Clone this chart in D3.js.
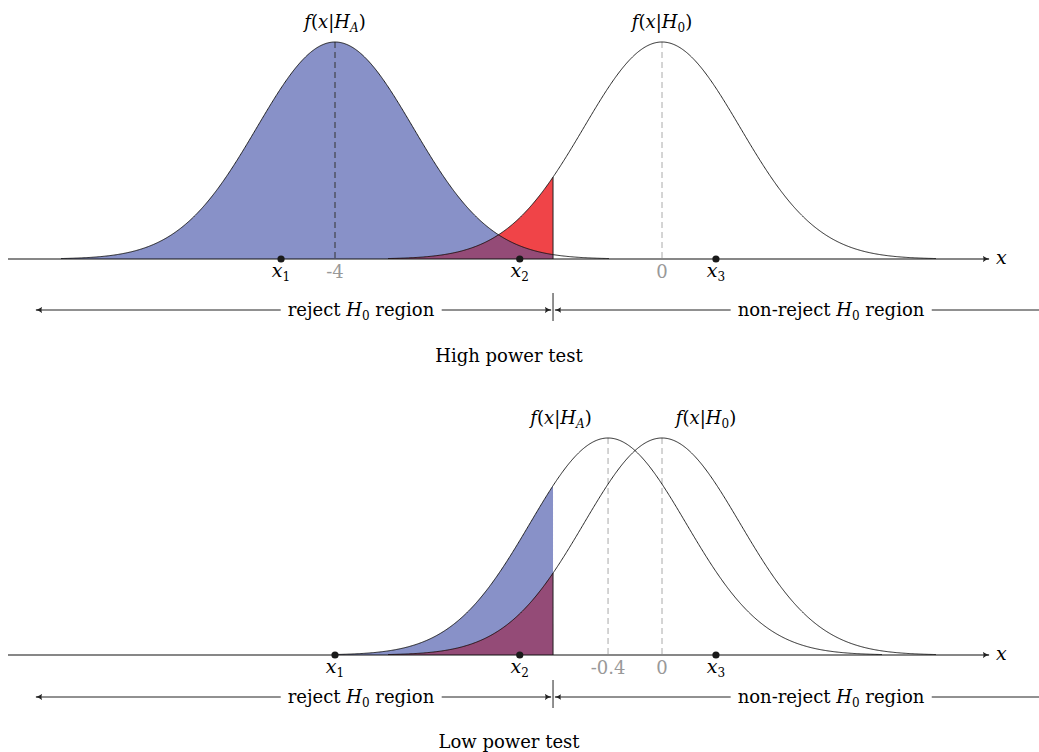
<!DOCTYPE html>
<html>
<head>
<meta charset="utf-8">
<script src="https://cdn.jsdelivr.net/npm/d3@7"></script>
<style>
  body { margin: 0; background: #fff; }
</style>
</head>
<body>
<svg id="chart"></svg>
<script>
const width = 1039;
const height = 752;

// two panels: high power (top) and low power (bottom)
const panelTitles = ["High power test", "Low power test"];
const meanA = [-4, -0.66];          // centre of f(x|H_A)
const meanALabels = ["-4", "-0.4"]; // label printed under it
const mean0 = [0, 0];               // centre of f(x|H_0)
const mean0Labels = ["0", "0"];
const sigma = 0.955;
const halfSpan = 3.35;              // how far each curve is drawn from its mean
const critical = -1.333;            // reject / non-reject boundary
const pointNames = ["1", "2", "3"];
const pointValues = [[-4.66, -1.74, 0.66], [-4.0, -1.74, 0.66]];

// layout per panel
const baseY = [259, 655];
const peakY = [42, 438];
const rowY = [310, 697];
const titleY = [362, 748];
const labelShift = [[0, 0], [-47, 44]];   // curve label offsets (H_A, H_0)

const serif = "'DejaVu Serif', serif";
const fs = 18, fsSub = 12;

const svg = d3.select("#chart")
  .attr("width", width)
  .attr("height", height)
  .attr("viewBox", [0, 0, width, height])
  .attr("font-family", serif);

const x = d3.scaleLinear().domain([-8, 4]).range([8, 989]);

const defs = svg.append("defs");
defs.append("marker")
  .attr("id", "arr")
  .attr("viewBox", "0 -5 10 10")
  .attr("refX", 9).attr("refY", 0)
  .attr("markerWidth", 7).attr("markerHeight", 7)
  .attr("markerUnits", "userSpaceOnUse")
  .attr("orient", "auto-start-reverse")
  .append("path")
  .attr("d", "M0,-4.5 Q4,-1 10,0 Q4,1 0,4.5 Q2.5,0 0,-4.5Z")
  .attr("fill", "#222");

const pdf = (v, m) => Math.exp(-0.5 * ((v - m) / sigma) ** 2) / (sigma * Math.sqrt(2 * Math.PI));
const blue = "#8891c8", red = "#f04448", purple = "#944b77";

panelTitles.forEach((title, p) => {
  const g = svg.append("g");
  const y = d3.scaleLinear().domain([0, pdf(0, 0)]).range([baseY[p], peakY[p]]);
  const mA = meanA[p], m0 = mean0[p];
  const fA = v => pdf(v, mA), f0 = v => pdf(v, m0);

  const samples = (a, b) => { const s = d3.range(a, b, 0.01); s.push(b); return s; };
  const area = f => d3.area().x(d => x(d)).y0(y(0)).y1(d => y(f(d)));
  const line = f => d3.line().x(d => x(d)).y(d => y(f(d)));

  // fills
  g.append("path").datum(samples(mA - halfSpan, critical))
    .attr("d", area(fA)).attr("fill", blue);
  g.append("path").datum(samples(m0 - halfSpan, critical))
    .attr("d", area(f0)).attr("fill", red);
  const ovStart = Math.max(mA - halfSpan, m0 - halfSpan);
  g.append("path").datum(samples(ovStart, critical))
    .attr("d", area(v => Math.min(fA(v), f0(v)))).attr("fill", purple);

  // critical edge
  g.append("line")
    .attr("x1", x(critical)).attr("x2", x(critical))
    .attr("y1", y(0)).attr("y2", y(f0(critical)))
    .attr("stroke", "#222").attr("stroke-width", 1);

  // dashed centre lines
  g.append("line")
    .attr("x1", x(mA)).attr("x2", x(mA))
    .attr("y1", y(pdf(0, 0))).attr("y2", y(0))
    .attr("stroke", p === 0 ? "#333" : "#aaa")
    .attr("stroke-dasharray", "6,4").attr("stroke-width", 1);
  g.append("line")
    .attr("x1", x(m0)).attr("x2", x(m0))
    .attr("y1", y(pdf(0, 0))).attr("y2", y(0))
    .attr("stroke", "#aaa")
    .attr("stroke-dasharray", "6,4").attr("stroke-width", 1);

  // curves
  [[mA, fA], [m0, f0]].forEach(([m, f]) => {
    g.append("path").datum(samples(m - halfSpan, m + halfSpan))
      .attr("d", line(f)).attr("fill", "none")
      .attr("stroke", "#111").attr("stroke-width", 0.9);
  });

  // axis
  g.append("line")
    .attr("x1", x(-8)).attr("x2", x(4))
    .attr("y1", y(0)).attr("y2", y(0))
    .attr("stroke", "#111").attr("stroke-width", 1.2)
    .attr("marker-end", "url(#arr)");
  g.append("text")
    .attr("x", x(4) + 7).attr("y", y(0) + 5)
    .attr("font-size", fs + 1).attr("font-style", "italic")
    .text("x");

  // curve labels
  [[mA, "A", labelShift[p][0]], [m0, "0", labelShift[p][1]]].forEach(([m, sub, dx]) => {
    const t = g.append("text")
      .attr("x", x(m) + dx).attr("y", peakY[p] - 14)
      .attr("text-anchor", "middle").attr("font-size", fs);
    t.append("tspan").attr("font-style", "italic").text("f");
    t.append("tspan").text("(");
    t.append("tspan").attr("font-style", "italic").text("x");
    t.append("tspan").text("|");
    t.append("tspan").attr("font-style", "italic").text("H");
    t.append("tspan").attr("font-size", fsSub).attr("dy", 4)
      .attr("font-style", sub === "A" ? "italic" : "normal").text(sub);
    t.append("tspan").attr("dy", -4).text(")");
  });

  // tick labels for means
  [[mA, meanALabels[p]], [m0, mean0Labels[p]]].forEach(([m, lab]) => {
    g.append("text")
      .attr("x", x(m)).attr("y", y(0) + 19)
      .attr("text-anchor", "middle").attr("font-size", fs)
      .attr("fill", "#999").text(lab);
  });

  // sample points
  pointValues[p].forEach((v, i) => {
    g.append("circle")
      .attr("cx", x(v)).attr("cy", y(0)).attr("r", 3.6)
      .attr("fill", "#1a1a1a");
    const t = g.append("text")
      .attr("x", x(v)).attr("y", y(0) + 18)
      .attr("text-anchor", "middle").attr("font-size", fs + 1);
    t.append("tspan").attr("font-style", "italic").text("x");
    t.append("tspan").attr("font-size", fsSub).attr("dy", 4).text(pointNames[i]);
  });

  // region arrows
  const cx = x(critical);
  const ry = rowY[p];
  g.append("line")
    .attr("x1", cx).attr("x2", cx)
    .attr("y1", ry - 17).attr("y2", ry + 11)
    .attr("stroke", "#222").attr("stroke-width", 1);
  g.append("line")
    .attr("x1", cx - 2).attr("x2", 36)
    .attr("y1", ry).attr("y2", ry)
    .attr("stroke", "#222").attr("stroke-width", 1)
    .attr("marker-start", "url(#arr)").attr("marker-end", "url(#arr)");
  g.append("line")
    .attr("x1", cx + 2).attr("x2", width)
    .attr("y1", ry).attr("y2", ry)
    .attr("stroke", "#222").attr("stroke-width", 1)
    .attr("marker-start", "url(#arr)");

  [[361, "reject "], [831, "non-reject "]].forEach(([tx, pre]) => {
    const bg = g.append("rect").attr("fill", "#fff");
    const t = g.append("text")
      .attr("x", tx).attr("y", ry + 6)
      .attr("text-anchor", "middle").attr("font-size", fs);
    t.append("tspan").text(pre);
    t.append("tspan").attr("font-style", "italic").text("H");
    t.append("tspan").attr("font-size", fsSub).attr("dy", 4).text("0");
    t.append("tspan").attr("dy", -4).text(" region");
    const b = t.node().getBBox();
    bg.attr("x", b.x - 7).attr("y", b.y).attr("width", b.width + 14).attr("height", b.height);
  });

  g.append("text")
    .attr("x", 509).attr("y", titleY[p])
    .attr("text-anchor", "middle").attr("font-size", fs)
    .text(title);
});
</script>
</body>
</html>
